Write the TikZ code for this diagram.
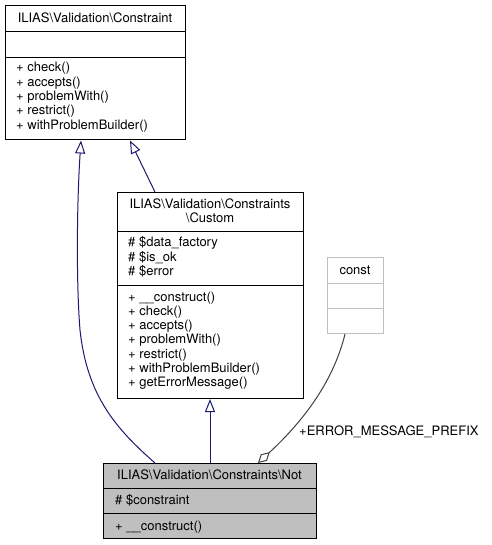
\documentclass[tikz,border=0pt]{standalone}
\usepackage{fontspec}
\setmainfont{TeX Gyre Heros}
\usetikzlibrary{arrows.meta}
\definecolor{edgeblue}{HTML}{191970}
\definecolor{edgegray}{HTML}{404040}
\definecolor{notfill}{HTML}{BFBFBF}
\definecolor{constgray}{HTML}{BFBFBF}
\tikzset{
  classbox/.style={draw=black, line width=1pt, inner sep=0pt, anchor=north west},
  lbl/.style={inner sep=0pt, font=\fontsize{13}{14.3}\selectfont},
  inh/.style={draw=edgeblue, line width=1pt, -{Triangle[fill=white, length=13pt, width=10pt, line width=1pt]}},
  agg/.style={draw=edgegray, line width=1pt, -{Diamond[fill=white, length=16pt, width=9pt, line width=1pt]}},
}
\begin{document}
\begin{tikzpicture}[x=1pt, y=-1pt]
\useasboundingbox (0,0) rectangle (491,545);
% ---------- Constraint ----------
\node[classbox, minimum width=180pt, minimum height=134.5pt] (cC) at (5,5) {};
\draw[line width=1pt] (5,32) -- (185,32);
\draw[line width=1pt] (5,58) -- (185,58);
\node[lbl, anchor=base] (cCt) at (95,23) {ILIAS\textbackslash Validation\textbackslash Constraint};
\foreach \t [count=\i] in {+ check(), + accepts(), + problemWith(), + restrict(), + withProblemBuilder()}
  \node[lbl, anchor=base west] (cCm\i) at (16,{72+(\i-1)*14.3}) {\t};
% ---------- Custom ----------
\node[classbox, minimum width=186pt, minimum height=206pt] (cU) at (117,192) {};
\draw[line width=1pt] (117,231.7) -- (303,231.7);
\draw[line width=1pt] (117,285) -- (303,285);
\node[lbl, anchor=base] (cUt1) at (210,208.5) {ILIAS\textbackslash Validation\textbackslash Constraints};
\node[lbl, anchor=base] (cUt2) at (210,222.8) {\textbackslash Custom};
\node[lbl, anchor=base west] (cUa1) at (128,246.7) {\# \$data\_factory};
\node[lbl, anchor=base west] (cUa2) at (128,261) {\# \$is\_ok};
\node[lbl, anchor=base west] (cUa3) at (128,275.3) {\# \$error};
\foreach \t [count=\i] in {+ \_\_construct(), + check(), + accepts(), + problemWith(), + restrict(), + withProblemBuilder(), + getErrorMessage()}
  \node[lbl, anchor=base west] (cUm\i) at (128,{301+(\i-1)*14.3}) {\t};
% ---------- const ----------
\node[classbox, draw=constgray, minimum width=56pt, minimum height=76pt] (cK) at (327,257) {};
\draw[constgray, line width=1pt] (327,283) -- (383,283);
\draw[constgray, line width=1pt] (327,308) -- (383,308);
\node[lbl, anchor=base] (cKt) at (355,274) {const};
% ---------- Not ----------
\node[classbox, fill=notfill, minimum width=213pt, minimum height=75pt] (nN) at (103,463) {};
\draw[line width=1pt] (103,488) -- (316,488);
\draw[line width=1pt] (103,513) -- (316,513);
\node[lbl, anchor=base] (nNt) at (209.5,479.5) {ILIAS\textbackslash Validation\textbackslash Constraints\textbackslash Not};
\node[lbl, anchor=base west] (nNa1) at (115,504.5) {\# \$constraint};
\node[lbl, anchor=base west] (nNm1) at (115,530) {+ \_\_construct()};
% ---------- edges ----------
\draw[inh] ([xshift=52pt]nN.north west) .. controls (115,428) and (87,395) .. (80,330)
  .. controls (76,280) and (77,200) .. ([xshift=76pt]cC.south west);
\draw[inh] ([xshift=38pt]cU.north west) -- ([xshift=125pt]cC.south west);
\draw[inh] (nN.north) -- (nN.north |- cU.south);
\draw[agg] ([xshift=18pt]cK.south west) .. controls (335,375) and (310,415) .. ([xshift=155pt]nN.north west);
\node[lbl, anchor=base west] (lE) at (299,435.5) {+ERROR\_MESSAGE\_PREFIX};
\end{tikzpicture}
\end{document}
